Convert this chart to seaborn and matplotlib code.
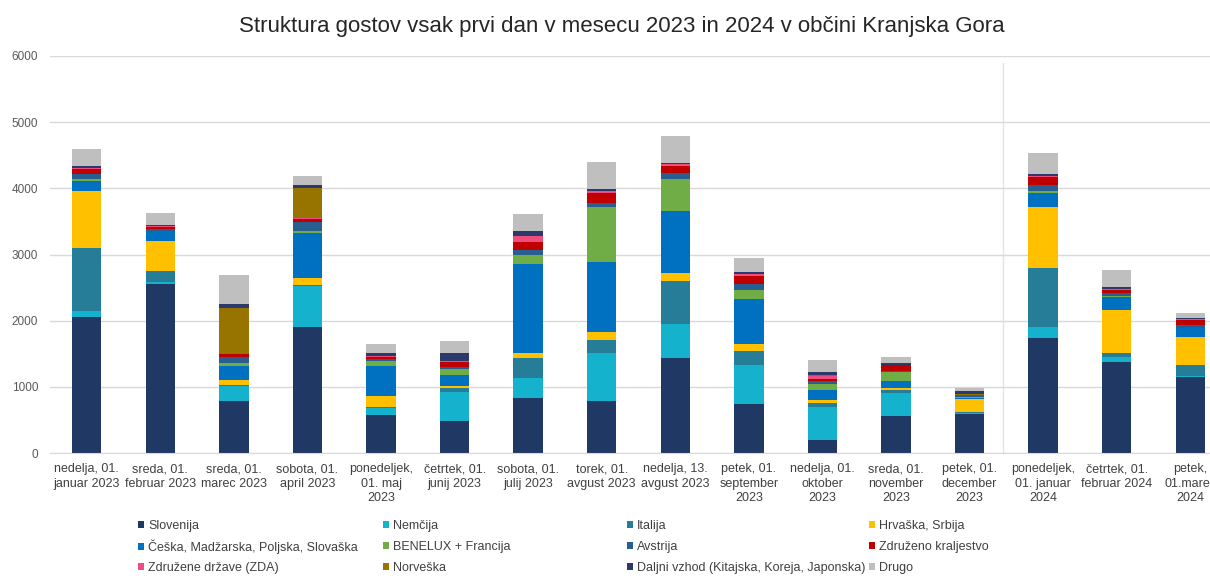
import numpy as np
import matplotlib
matplotlib.use("Agg")
import matplotlib.pyplot as plt
import seaborn as sns
from matplotlib.patches import Patch

categories = [
    "nedelja, 01.\njanuar 2023", "sreda, 01.\nfebruar 2023", "sreda, 01.\nmarec 2023",
    "sobota, 01.\napril 2023", "ponedeljek,\n01. maj\n2023", "četrtek, 01.\njunij 2023",
    "sobota, 01.\njulij 2023", "torek, 01.\navgust 2023", "nedelja, 13.\navgust 2023",
    "petek, 01.\nseptember\n2023", "nedelja, 01.\noktober\n2023", "sreda, 01.\nnovember\n2023",
    "petek, 01.\ndecember\n2023", "ponedeljek,\n01. januar\n2024", "četrtek, 01.\nfebruar 2024",
    "petek,\n01.marec\n2024",
]

series_names = [
    "Slovenija", "Nemčija", "Italija", "Hrvaška, Srbija",
    "Češka, Madžarska, Poljska, Slovaška", "BENELUX + Francija", "Avstrija", "Združeno kraljestvo",
    "Združene države (ZDA)", "Norveška", "Daljni vzhod (Kitajska, Koreja, Japonska)", "Drugo",
]

slovenija = [2060, 2555, 780, 1910, 580, 490, 830, 780, 1435, 740, 195, 555, 590, 1740, 1380, 1155]
nemcija = [80, 30, 235, 620, 100, 430, 310, 725, 515, 590, 495, 350, 20, 170, 65, 10]
italija = [960, 170, 20, 15, 20, 65, 300, 200, 645, 205, 60, 40, 5, 885, 65, 165]
hrvaska = [855, 445, 65, 100, 160, 30, 65, 125, 125, 110, 50, 35, 200, 930, 650, 420]
ceska = [160, 150, 215, 675, 460, 165, 1345, 1050, 940, 690, 150, 115, 10, 205, 200, 140]
benelux = [20, 5, 50, 40, 65, 90, 135, 840, 480, 125, 100, 125, 15, 35, 15, 5]
avstrija = [75, 30, 90, 135, 35, 35, 80, 65, 85, 90, 40, 25, 35, 90, 40, 35]
zdruzeno = [75, 35, 40, 40, 35, 65, 120, 140, 115, 125, 35, 85, 5, 110, 50, 85]
zda = [15, 5, 5, 10, 15, 20, 90, 35, 25, 25, 40, 5, 0, 25, 10, 5]
norveska = [0, 0, 695, 465, 0, 0, 0, 0, 0, 0, 20, 0, 10, 0, 0, 0]
daljni = [30, 15, 50, 40, 40, 125, 85, 35, 25, 40, 45, 20, 50, 25, 35, 15]
drugo = [270, 180, 445, 140, 140, 185, 255, 400, 400, 200, 175, 100, 40, 320, 250, 80]

series_values = [slovenija, nemcija, italija, hrvaska, ceska, benelux,
                 avstrija, zdruzeno, zda, norveska, daljni, drugo]

colors = ["#203864", "#14B2CC", "#257D98", "#FFC000", "#0070C0", "#70AD47",
          "#285E90", "#C00000", "#EE4D7E", "#977400", "#2B3A6A", "#BFBFBF"]

sns.set_style("white")
plt.rcParams["font.family"] = ["Liberation Sans", "DejaVu Sans"]

W, H = 1210, 576
fig = plt.figure(figsize=(W / 100, H / 100), dpi=100)
ax = fig.add_axes([50 / W, (H - 453) / H, 1177 / W, (453 - 56) / H])

bottom = np.zeros(len(categories))
for name, vals, col in zip(series_names, series_values, colors):
    sns.barplot(x=categories, y=vals, bottom=bottom.copy(), color=col, width=0.4,
                saturation=1, errorbar=None, ax=ax, label=name, linewidth=0)
    bottom += np.array(vals)

ax.set_ylim(0, 6000)
ax.set_xlim(-0.5, len(categories) - 0.5)
ax.set_yticks(np.arange(0, 6001, 1000))
ax.yaxis.grid(True, color="#D9D9D9", linewidth=1)
ax.set_axisbelow(True)
for s in ["top", "right", "left"]:
    ax.spines[s].set_visible(False)
ax.spines["bottom"].set_color("#D9D9D9")
ax.axvline(12.45, ymin=0, ymax=(453 - 63) / (453 - 56), color="#E3E3E3", linewidth=1, zorder=0)

ax.tick_params(axis="y", length=0, pad=8.5, labelsize=8.5, labelcolor="#595959")
ax.tick_params(axis="x", length=0, pad=7.5, labelsize=9, labelcolor="#404040")
for t in ax.get_xticklabels():
    t.set_linespacing(1.25)
ax.set_xlabel("")
ax.set_ylabel("")
if ax.get_legend() is not None:
    ax.get_legend().remove()

fig.text(622 / W, 1 - 32 / H, "Struktura gostov vsak prvi dan v mesecu 2023 in 2024 v občini Kranjska Gora",
         ha="center", va="baseline", fontsize=16, color="#262626")

col_x = [138, 383, 627, 869]
row_y = [526, 547, 568]
for i, (name, col) in enumerate(zip(series_names, colors)):
    r, c = divmod(i, 4)
    fig.legend([Patch(facecolor=col, edgecolor="none")], [name], loc="center left",
               bbox_to_anchor=(col_x[c] / W, 1 - row_y[r] / H),
               frameon=False, fontsize=9, handlelength=0.5, handleheight=0.5,
               handletextpad=0.3, borderpad=0, borderaxespad=0,
               labelcolor="#404040")

fig.savefig("out.png", dpi=100)
